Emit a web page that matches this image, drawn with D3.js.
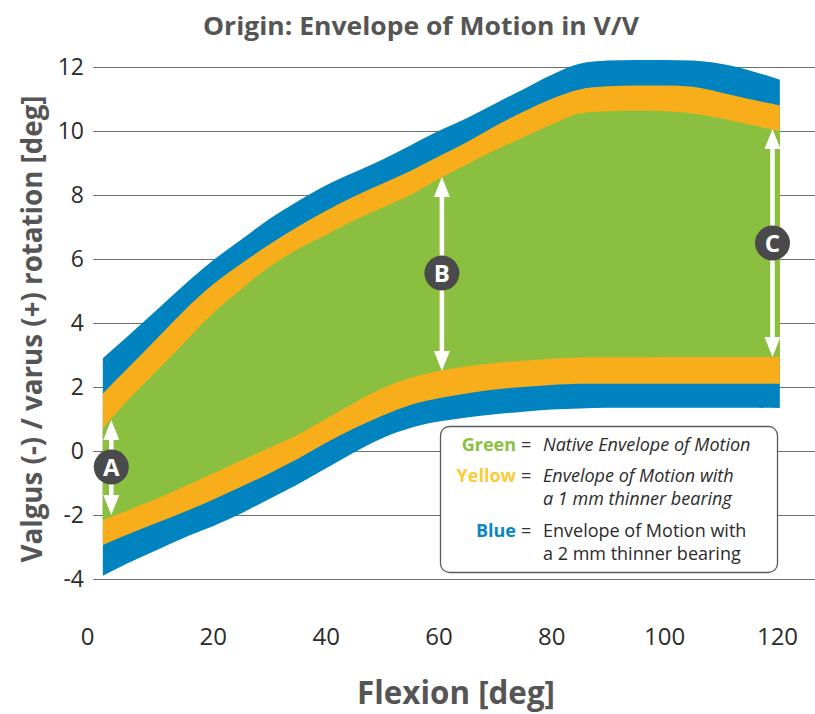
<!DOCTYPE html>
<html><head><meta charset="utf-8">
<script src="https://cdn.jsdelivr.net/npm/d3@7"></script>
<style>body{margin:0;background:#fff}svg{display:block}</style>
</head><body>
<svg id="c" width="815" height="714"></svg>
<script>
// ---- data ----
const flexion     = [0.5, 5, 10, 15, 20, 25, 30, 35, 40, 45, 50, 55, 60, 65, 70, 75, 80, 85, 90, 95, 100, 105, 110, 115, 120.5];
const blueTop     = [2.9, 3.6, 4.4, 5.2, 5.95, 6.6, 7.25, 7.8, 8.3, 8.7, 9.1, 9.55, 10.0, 10.4, 10.85, 11.3, 11.75, 12.1, 12.2, 12.22, 12.22, 12.2, 12.1, 11.9, 11.6];
const yellowTop   = [1.8, 2.6, 3.5, 4.4, 5.2, 5.85, 6.45, 7.0, 7.5, 7.95, 8.35, 8.75, 9.2, 9.65, 10.15, 10.6, 11.0, 11.3, 11.4, 11.42, 11.42, 11.38, 11.2, 11.0, 10.8];
const greenTop    = [0.72, 1.6, 2.5, 3.4, 4.3, 5.05, 5.75, 6.3, 6.75, 7.2, 7.6, 8.0, 8.5, 8.95, 9.4, 9.8, 10.2, 10.55, 10.62, 10.63, 10.62, 10.55, 10.4, 10.2, 10.0];
const greenBottom = [-2.16, -1.85, -1.5, -1.1, -0.7, -0.3, 0.1, 0.5, 1.0, 1.5, 1.95, 2.28, 2.5, 2.65, 2.75, 2.82, 2.88, 2.92, 2.93, 2.93, 2.94, 2.94, 2.94, 2.94, 2.94];
const yellowBottom= [-2.94, -2.6, -2.25, -1.9, -1.52, -1.12, -0.7, -0.25, 0.25, 0.7, 1.1, 1.44, 1.65, 1.8, 1.92, 2.0, 2.06, 2.1, 2.1, 2.1, 2.1, 2.1, 2.1, 2.1, 2.1];
const blueBottom  = [-3.9, -3.5, -3.1, -2.7, -2.35, -1.95, -1.5, -1.05, -0.55, -0.05, 0.4, 0.72, 0.92, 1.05, 1.15, 1.23, 1.3, 1.33, 1.35, 1.35, 1.35, 1.35, 1.35, 1.35, 1.34];
const xTicks = [0, 20, 40, 60, 80, 100, 120];
const yTicks = [-4, -2, 0, 2, 4, 6, 8, 10, 12];
const yTickLabels = ["-4", "-2", "0", "2", "4", "6", "8", "10", "12"];
const markerLabels = ["A", "B", "C"];
const markerX      = [2, 60.6, 119.2];
const markerFrom   = [-2.0, 2.5, 2.94];
const markerTo     = [0.97, 8.56, 10.06];
const markerMid    = [-0.5, 5.56, 6.5];
const legendNames  = ["Green", "Yellow", "Blue"];
const legendText   = [["Native Envelope of Motion"], ["Envelope of Motion with", "a 1 mm thinner bearing"], ["Envelope of Motion with", "a 2 mm thinner bearing"]];
const titleText = "Origin: Envelope of Motion in V/V";
const xTitle = "Flexion [deg]";
const yTitle = "Valgus (-) / varus (+) rotation [deg]";

// ---- drawing ----
const svg = d3.select("#c");
const x = d3.scaleLinear().domain([0, 120]).range([100, 777]);
const y = d3.scaleLinear().domain([-4, 12]).range([579, 67]);

// gridlines / y axis
const gy = svg.append("g").attr("transform", "translate(93,0)")
  .call(d3.axisLeft(y).tickValues(yTicks).tickSize(-(815 - 93)).tickPadding(9)
    .tickFormat((d, i) => yTickLabels[i]));
gy.select(".domain").remove();
gy.selectAll(".tick line").attr("stroke", "#707070").attr("stroke-width", 1);
gy.selectAll(".tick text").attr("fill", "#2b2b2b").style("font-family", "'Liberation Sans Narrow','Open Sans',sans-serif").style("font-size", "23px");

// x axis labels
const gx = svg.append("g").attr("transform", "translate(0,627)")
  .call(d3.axisBottom(x).tickValues(xTicks).tickSize(0).tickPadding(0).tickFormat(d => String(d)));
gx.select(".domain").remove();
gx.selectAll(".tick text").attr("fill", "#2b2b2b").attr("dy", "0.75em")
  .style("font-family", "'Liberation Sans Narrow','Open Sans',sans-serif").style("font-size", "24px")
  .attr("dx", d => d === 0 ? -13 : 0);

// bands
const rows = flexion.map((f, i) => ({f, bt: blueTop[i], yt: yellowTop[i], gt: greenTop[i], gb: greenBottom[i], yb: yellowBottom[i], bb: blueBottom[i]}));
const band = (top, bot) => d3.area().x(d => x(d.f)).y0(d => y(d[bot])).y1(d => y(d[top])).curve(d3.curveMonotoneX);
svg.append("path").datum(rows).attr("d", band("bt", "bb")).attr("fill", "#0083BF");
svg.append("path").datum(rows).attr("d", band("yt", "yb")).attr("fill", "#F8AE1A");
svg.append("path").datum(rows).attr("d", band("gt", "gb")).attr("fill", "#8BBF3F");

// markers
markerLabels.forEach((lab, i) => {
  const cx = x(markerX[i]);
  const yTop = y(markerTo[i]), yBot = y(markerFrom[i]);
  const hl = 20, hw = 8;
  const g = svg.append("g");
  g.append("line").attr("x1", cx).attr("x2", cx).attr("y1", yTop + hl - 2).attr("y2", yBot - hl + 2)
    .attr("stroke", "#fff").attr("stroke-width", 4.5);
  g.append("path").attr("d", `M${cx},${yTop} L${cx - hw},${yTop + hl} L${cx + hw},${yTop + hl} Z`).attr("fill", "#fff");
  g.append("path").attr("d", `M${cx},${yBot} L${cx - hw},${yBot - hl} L${cx + hw},${yBot - hl} Z`).attr("fill", "#fff");
  g.append("circle").attr("cx", cx).attr("cy", y(markerMid[i])).attr("r", 17.5).attr("fill", "#4a4a4c");
  g.append("text").attr("x", cx).attr("y", y(markerMid[i])).attr("dy", "0.36em").attr("text-anchor", "middle")
    .attr("fill", "#fff").style("font-family", "'Open Sans',sans-serif").style("font-weight", 700).style("font-size", "24px").text(lab);
});

// legend
const lg = svg.append("g");
lg.append("rect").attr("x", 440.5).attr("y", 426.5).attr("width", 337).attr("height", 146).attr("rx", 9)
  .attr("fill", "#fff").attr("stroke", "#5a5a5a").attr("stroke-width", 1.3);
const legendColors = ["#8CC03F", "#FCCB3A", "#0A86C3"];
const legendY = [[451], [482, 505], [537, 560]];
const legendItalic = [true, true, false];
legendNames.forEach((n, i) => {
  lg.append("text").attr("x", 516).attr("y", legendY[i][0]).attr("text-anchor", "end").attr("fill", legendColors[i])
    .style("font-family", "'Open Sans',sans-serif").style("font-weight", 700).style("font-size", "18px").text(n);
  lg.append("text").attr("x", 521).attr("y", legendY[i][0]).attr("fill", "#333")
    .style("font-family", "'Open Sans',sans-serif").style("font-size", "18px").text("=");
  legendText[i].forEach((t, j) => {
    lg.append("text").attr("x", 543).attr("y", legendY[i][j]).attr("fill", "#2b2b2b")
      .style("font-family", "'Open Sans',sans-serif").style("font-style", legendItalic[i] ? "italic" : "normal")
      .style("font-size", "18px").text(t);
  });
});

// titles
svg.append("text").attr("x", 421).attr("y", 35).attr("text-anchor", "middle").attr("fill", "#555")
  .style("font-family", "'Open Sans',sans-serif").style("font-weight", 700).style("font-size", "25px")
  .attr("textLength", 436).attr("lengthAdjust", "spacingAndGlyphs").text(titleText);
svg.append("text").attr("x", 456).attr("y", 704).attr("text-anchor", "middle").attr("fill", "#555")
  .style("font-family", "'Open Sans',sans-serif").style("font-weight", 700).style("font-size", "33px")
  .attr("textLength", 198).attr("lengthAdjust", "spacingAndGlyphs").text(xTitle);
svg.append("text").attr("transform", "translate(42,329) rotate(-90)").attr("text-anchor", "middle").attr("fill", "#555")
  .style("font-family", "'Open Sans',sans-serif").style("font-weight", 700).style("font-size", "29px")
  .attr("textLength", 467).attr("lengthAdjust", "spacingAndGlyphs").text(yTitle);
</script>
</body></html>
